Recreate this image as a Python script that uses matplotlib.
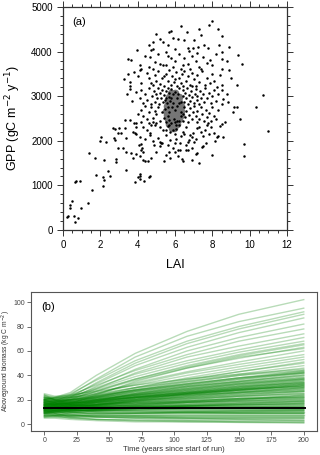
import matplotlib
matplotlib.use("Agg")
import matplotlib.pyplot as plt
from matplotlib.ticker import MultipleLocator

plt.rcParams["font.family"] = ["Liberation Sans", "DejaVu Sans"]

# -----------------------
# (a) LAI vs GPP scatter
# -----------------------
scatter_pts = [
    # > 4400
    (5.0, 4400), (5.8, 4474), (5.68, 4437), (6.32, 4586), (6.62, 4437), (7.28, 4497),
    (7.39, 4378), (7.84, 4602), (8.0, 4682), (8.32, 4497),
    # 4000 - 4400
    (4.82, 4213), (5.18, 4289), (5.36, 4213), (4.73, 4027), (4.82, 4065), (3.95, 4027),
    (6.18, 4289), (6.5, 4266), (6.71, 4079), (6.75, 4005), (6.98, 4079), (7.21, 4101),
    (7.57, 4139), (7.78, 4079), (8.36, 4154), (8.5, 4348), (8.91, 4101), (5.6, 4150),
    (5.9, 4300), (6.0, 4050), (5.5, 4000), (7.0, 4250), (4.6, 4150),
    # 3600 - 4000
    (4.64, 3877), (4.91, 3765), (5.18, 3729), (5.36, 3691), (3.48, 3841), (3.66, 3803),
    (4.12, 3691), (4.19, 3617), (4.12, 3579), (8.5, 3989), (9.36, 3915), (9.6, 3714),
    (8.5, 3826), (7.87, 3803), (7.96, 3691), (8.5, 3617), (8.91, 3579), (4.6, 3650),
    (4.8, 3620), (5.6, 3900), (5.8, 3850), (6.0, 3780), (6.2, 3950), (6.4, 3700),
    (6.5, 3850), (6.7, 3720), (6.9, 3900), (7.1, 3800), (7.3, 3650), (7.5, 3880),
    (7.7, 3750), (5.5, 3700), (5.9, 3650), (6.3, 3620), (6.8, 3600), (7.2, 3980),
    (7.4, 3600), (8.2, 3950), (8.8, 3800), (5.1, 3950), (4.4, 3900),
    # 3200 - 3600
    (3.27, 3393), (3.46, 3505), (3.59, 3317), (3.59, 3230), (3.8, 3540), (4.0, 3450),
    (4.2, 3300), (4.5, 3520), (4.6, 3400), (4.8, 3250), (4.9, 3480), (5.0, 3350),
    (5.1, 3560), (5.2, 3280), (5.3, 3420), (5.4, 3220), (5.5, 3500), (5.6, 3350),
    (5.7, 3580), (5.8, 3260), (5.85, 3450), (5.95, 3320), (6.05, 3540), (6.1, 3230),
    (6.2, 3400), (6.3, 3300), (6.35, 3500), (6.45, 3220), (6.5, 3560), (6.6, 3350),
    (6.7, 3450), (6.8, 3260), (6.9, 3520), (7.0, 3380), (7.1, 3230), (7.2, 3480),
    (7.3, 3330), (7.45, 3560), (7.6, 3250), (7.7, 3420), (7.85, 3300), (8.0, 3500),
    (8.23, 3206), (8.41, 3467), (8.5, 3244), (8.1, 3350), (9.0, 3400), (9.3, 3250),
    (6.0, 3380), (5.4, 3460), (4.7, 3300), (6.9, 3220),
    # 2800 - 3200
    (3.41, 3058), (3.59, 3170), (3.7, 2900), (3.9, 3100), (4.1, 2950), (4.2, 3150),
    (4.3, 2850), (4.4, 3050), (4.5, 2920), (4.6, 3180), (4.7, 2820), (4.75, 3000),
    (4.85, 3120), (4.9, 2880), (5.0, 3050), (5.05, 2950), (5.1, 3180), (5.15, 2830),
    (5.2, 3080), (5.25, 2960), (5.3, 3150), (5.35, 2880), (5.4, 3020), (5.45, 2920),
    (5.5, 3120), (5.55, 2850), (5.6, 3180), (5.65, 2980), (5.7, 3080), (5.75, 2900),
    (6.4, 3000), (6.45, 3150), (6.5, 2870), (6.55, 3080), (6.6, 2950), (6.65, 3180),
    (6.7, 2820), (6.75, 3030), (6.8, 2900), (6.85, 3120), (6.9, 2980), (7.0, 2850),
    (7.05, 3060), (7.1, 3170), (7.15, 2920), (7.2, 3000), (7.3, 2830), (7.35, 3110),
    (7.4, 2960), (7.5, 3050), (7.55, 2880), (7.6, 3180), (7.7, 2950), (7.8, 3080),
    (7.9, 2850), (8.0, 3000), (8.1, 3150), (8.2, 2900), (8.3, 3050), (8.5, 3132),
    (8.59, 2946), (8.53, 2834), (8.77, 3058), (8.85, 2870), (10.73, 3036), (6.0, 3100),
    (6.1, 2950), (6.2, 3180), (6.3, 2860), (5.9, 3050), (5.8, 3170),
    # 2400 - 2800
    (3.3, 2467), (3.57, 2467), (3.79, 2394), (3.93, 2394), (4.19, 2416), (4.61, 2394),
    (4.73, 2355), (4.82, 2432), (5.0, 2394), (4.0, 2600), (4.2, 2700), (4.3, 2550),
    (4.4, 2780), (4.5, 2480), (4.6, 2650), (4.7, 2750), (4.8, 2520), (4.9, 2680),
    (5.0, 2600), (5.1, 2760), (5.2, 2450), (5.3, 2640), (5.4, 2520), (5.45, 2720),
    (5.5, 2420), (6.4, 2600), (6.45, 2450), (6.5, 2760), (6.55, 2530), (6.6, 2680),
    (6.7, 2420), (6.75, 2580), (6.8, 2730), (6.9, 2480), (6.95, 2640), (7.0, 2780),
    (7.1, 2550), (7.15, 2430), (7.2, 2680), (7.3, 2500), (7.4, 2760), (7.45, 2600),
    (7.55, 2450), (7.65, 2700), (7.7, 2530), (7.8, 2620), (7.9, 2440), (8.0, 2760),
    (8.1, 2560), (8.2, 2480), (8.32, 2684), (8.41, 2342), (8.5, 2371), (8.68, 2416),
    (9.12, 2646), (9.17, 2758), (9.3, 2758), (9.48, 2500), (10.32, 2758), (6.0, 2420),
    (6.1, 2780), (6.2, 2450), (6.3, 2560), (5.6, 2760), (5.7, 2460), (5.8, 2400),
    (3.9, 2300), (7.7, 2355), (7.78, 2394), (7.16, 2297), (7.28, 2320),
    # black dots on top of the grey core
    (5.6, 2550), (5.8, 2950), (6.0, 2700), (6.2, 2850), (5.7, 2650), (6.1, 2450),
    (5.9, 2850), (5.65, 2350), (6.15, 3050), (5.95, 2500), (5.5, 2950), (6.3, 2650),
    (5.85, 2750), (6.05, 2350),
    # 2000 - 2400
    (2.68, 2282), (3.0, 2282), (2.95, 2170), (3.12, 2185), (3.32, 2282), (3.39, 2058),
    (2.71, 2058), (2.77, 2020), (1.96, 1998), (2.02, 2081), (2.32, 1984), (3.84, 2170),
    (3.75, 2208), (3.93, 2148), (4.11, 2096), (4.64, 2132), (4.68, 2170), (5.09, 2058),
    (5.18, 1984), (5.27, 1946), (5.36, 2240), (5.54, 2240), (5.71, 2208), (5.89, 2240),
    (6.07, 2266), (5.71, 2020), (6.05, 2050), (6.68, 1984), (6.75, 2020), (6.27, 1946),
    (6.8, 2132), (6.98, 2170), (6.89, 2096), (8.59, 2081), (8.23, 2096), (8.29, 2118),
    (8.14, 1998), (8.07, 2170), (10.96, 2221), (4.3, 2300), (4.5, 2250), (4.9, 2350),
    (5.2, 2300), (5.6, 2330), (6.2, 2350), (6.4, 2200), (6.6, 2300), (7.4, 2200),
    (7.6, 2250), (7.9, 2300), (6.3, 2100), (7.1, 2050), (7.5, 2100), (6.5, 2150),
    (4.4, 2050), (4.8, 2000), (5.5, 2120), (6.0, 2150), (7.8, 2150), (2.79, 2275),
    # 1500 - 2000
    (1.41, 1738), (1.71, 1611), (2.21, 1566), (2.82, 1595), (2.82, 1514), (2.96, 1834),
    (3.21, 1850), (3.39, 1760), (3.66, 1722), (3.75, 1611), (4.07, 1908), (4.19, 1924),
    (4.25, 1834), (4.19, 1796), (4.28, 1760), (4.14, 1649), (4.28, 1573), (4.38, 1537),
    (3.93, 1700), (4.55, 1537), (4.73, 1611), (4.87, 1908), (5.39, 1551), (5.54, 1684),
    (5.68, 1760), (5.75, 1611), (5.89, 1834), (5.98, 1760), (6.18, 1649), (6.27, 1796),
    (6.18, 1796), (6.45, 1551), (6.36, 1588), (6.71, 1796), (6.59, 1796), (6.9, 1850),
    (6.93, 1573), (7.14, 1700), (7.16, 1738), (7.28, 1499), (7.43, 1872), (7.52, 1886),
    (7.64, 1946), (7.96, 1684), (9.71, 1939), (9.71, 1649), (5.2, 1880), (5.0, 1750),
    (5.3, 1950), (6.0, 1950), (6.6, 1900), (7.0, 1980), (5.6, 1900),
    # < 1500
    (0.21, 284), (0.27, 306), (0.36, 553), (0.39, 492), (0.5, 642), (0.64, 179),
    (0.57, 320), (0.82, 268), (0.98, 492), (1.34, 604), (0.66, 1074), (0.71, 1103),
    (0.93, 1090), (1.55, 903), (1.79, 1238), (2.14, 1179), (2.21, 1126), (2.14, 977),
    (2.43, 1327), (2.5, 1201), (3.36, 1349), (4.02, 1179), (4.11, 1201), (4.14, 1148),
    (3.84, 1067), (4.34, 1103), (4.61, 1179), (4.68, 1201), (4.1, 1250),
]

# grey dense core around LAI ~6
core_lai = [5.85, 5.95,
            5.7, 5.9, 6.1,
            5.6, 5.8, 6.0, 6.2,
            5.55, 5.75, 5.95, 6.15, 6.3,
            5.5, 5.7, 5.9, 6.1, 6.3,
            5.55, 5.75, 5.95, 6.15, 6.3,
            5.6, 5.8, 6.0, 6.2,
            5.65, 5.85, 6.05, 6.2,
            5.8, 6.0]
core_gpp = [2280, 2280,
            2380, 2380, 2380,
            2480, 2480, 2480, 2480,
            2580, 2580, 2580, 2580, 2580,
            2680, 2680, 2680, 2680, 2680,
            2780, 2780, 2780, 2780, 2780,
            2880, 2880, 2880, 2880,
            2980, 2980, 2980, 2980,
            3080, 3080]

# -----------------------
# (b) biomass trajectories, knot values at these years
# -----------------------
years = [0, 8, 20, 40, 70, 110, 150, 200]
trajectories = [
    [20, 22, 26, 40, 58, 76, 90, 102],
    [18, 19, 24, 37, 55, 72, 84, 95],
    [22, 21, 25, 36, 52, 68, 80, 92],
    [16, 18, 22, 34, 50, 66, 78, 90],
    [19, 20, 23, 33, 48, 63, 75, 87],
    [17, 16, 21, 31, 45, 60, 71, 82],
    [21, 22, 24, 32, 44, 57, 68, 78],
    [15, 17, 20, 29, 42, 55, 64, 74],
    [18, 19, 22, 30, 41, 52, 61, 71],
    [20, 21, 23, 29, 39, 50, 59, 68],
    [16, 18, 20, 27, 37, 48, 57, 66],
    [19, 18, 21, 27, 36, 46, 54, 63],
    [14, 16, 19, 25, 34, 43, 51, 60],
    [17, 18, 20, 25, 33, 42, 49, 57],
    [22, 20, 22, 26, 32, 40, 47, 55],
    [15, 16, 18, 23, 30, 38, 45, 53],
    [18, 17, 19, 24, 30, 37, 43, 51],
    [13, 15, 18, 22, 29, 36, 43, 50],
    [20, 19, 20, 23, 28, 35, 41, 48],
    [16, 17, 18, 22, 28, 34, 40, 46],
    [24, 22, 23, 28, 37, 47, 56, 65],
    [12, 14, 17, 24, 35, 46, 55, 62],
    [14, 15, 17, 21, 27, 33, 38, 44],
    [19, 18, 19, 22, 27, 32, 37, 43],
    [11, 13, 15, 19, 25, 31, 36, 42],
    [17, 16, 17, 20, 25, 30, 35, 41],
    [22, 20, 20, 22, 26, 31, 35, 40],
    [13, 14, 16, 19, 24, 29, 34, 39],
    [16, 17, 17, 20, 24, 28, 33, 38],
    [10, 12, 14, 18, 23, 28, 32, 37],
    [20, 19, 19, 21, 24, 28, 32, 36],
    [15, 15, 16, 18, 22, 27, 31, 35],
    [12, 13, 15, 18, 22, 26, 30, 34],
    [18, 17, 17, 19, 22, 26, 29, 33],
    [9, 11, 13, 16, 20, 25, 29, 33],
    [14, 15, 15, 18, 21, 25, 28, 32],
    [21, 19, 18, 19, 22, 25, 28, 31],
    [11, 12, 14, 16, 20, 24, 27, 30],
    [16, 16, 16, 18, 20, 23, 26, 29],
    [13, 14, 14, 16, 19, 22, 25, 28],
    [19, 18, 17, 18, 20, 22, 25, 27],
    [8, 10, 12, 15, 18, 21, 24, 27],
    [15, 14, 15, 16, 18, 21, 23, 26],
    [12, 13, 13, 15, 17, 20, 23, 25],
    [17, 16, 16, 16, 18, 20, 22, 24],
    [10, 11, 12, 14, 16, 19, 21, 23],
    [14, 14, 14, 15, 17, 19, 21, 23],
    [23, 20, 18, 17, 18, 19, 21, 22],
    [11, 12, 12, 14, 16, 18, 20, 21],
    [16, 15, 15, 15, 16, 18, 19, 20],
    [13, 13, 13, 14, 15, 17, 18, 19],
    [9, 10, 11, 12, 14, 16, 17, 18],
    [18, 16, 15, 15, 15, 16, 17, 18],
    [12, 12, 12, 13, 14, 15, 16, 17],
    [15, 14, 14, 14, 14, 15, 16, 16],
    [20, 18, 16, 15, 15, 15, 15, 15],
    [10, 11, 11, 12, 13, 14, 14, 15],
    [14, 13, 13, 13, 13, 14, 14, 14],
    [17, 15, 14, 13, 13, 13, 13, 13],
    [25, 23, 24, 27, 32, 37, 41, 45],
    [21, 21, 22, 25, 30, 35, 40, 44],
    [18, 19, 20, 23, 28, 33, 38, 42],
    [15, 16, 18, 21, 26, 31, 35, 40],
    [12, 14, 16, 20, 25, 30, 34, 38],
    [20, 20, 20, 22, 25, 29, 33, 37],
    [13, 14, 15, 17, 21, 25, 28, 32],
    [17, 17, 17, 19, 22, 25, 28, 31],
    [9, 11, 13, 15, 19, 23, 26, 29],
    [12, 11, 11, 11, 12, 12, 12, 12],
    [15, 13, 12, 11, 11, 11, 11, 11],
    [10, 10, 10, 10, 10, 10, 10, 10],
    [13, 11, 10, 9, 9, 9, 9, 9],
    [8, 8, 8, 8, 8, 8, 8, 8],
    [11, 9, 8, 7, 7, 7, 7, 7],
    [16, 13, 10, 8, 7, 6, 6, 6],
    [7, 7, 6, 6, 6, 5, 5, 5],
    [10, 8, 7, 6, 5, 5, 4, 4],
    [14, 11, 8, 6, 5, 4, 4, 3],
    [6, 6, 5, 4, 4, 3, 3, 3],
    [9, 7, 5, 4, 3, 3, 2, 2],
    [12, 9, 6, 4, 3, 2, 2, 1.5],
    [5, 5, 4, 3, 2, 2, 1.5, 1],
    [18, 15, 12, 10, 9, 9, 9, 9],
    [20, 17, 14, 12, 11, 10, 10, 10],
    [24, 20, 16, 14, 13, 12, 12, 12],
    [7, 8, 8, 9, 9, 10, 10, 11],
    [9, 9, 10, 11, 12, 13, 14, 14],
    [11, 11, 12, 13, 14, 15, 16, 17],
    [6, 7, 9, 11, 13, 15, 17, 19],
    [8, 9, 10, 12, 15, 18, 20, 22],
    [14, 15, 16, 19, 23, 27, 31, 36],
    [19, 18, 18, 20, 23, 26, 30, 34],
    [11, 12, 13, 16, 19, 23, 26, 30],
    [16, 16, 17, 19, 22, 26, 30, 35],
    [22, 21, 21, 23, 27, 32, 37, 42],
    [13, 13, 14, 16, 19, 22, 24, 27],
    [17, 16, 16, 17, 19, 21, 23, 25],
    [10, 11, 12, 13, 15, 17, 19, 21],
    [15, 15, 15, 16, 17, 19, 21, 22],
    [12, 12, 13, 14, 16, 18, 20, 24],
    [18, 17, 17, 18, 21, 24, 27, 30],
    [9, 10, 11, 12, 13, 15, 16, 17],
    [14, 13, 12, 12, 12, 13, 13, 13],
    [11, 10, 9, 9, 8, 8, 8, 8],
    [16, 14, 12, 11, 10, 10, 9, 9],
    [8, 8, 7, 7, 6, 6, 6, 6],
    [13, 12, 11, 11, 11, 11, 11, 11],
    [20, 19, 19, 20, 22, 24, 26, 28],
    [23, 22, 22, 24, 28, 33, 38, 43],
    [15, 16, 17, 20, 24, 29, 33, 37],
    [12, 13, 14, 17, 21, 25, 29, 33],
    [17, 17, 18, 20, 23, 26, 29, 31],
    [10, 10, 11, 12, 14, 16, 18, 19],
    [7, 7, 7, 8, 9, 10, 11, 12],
    [19, 17, 16, 16, 17, 18, 19, 20],
    [14, 14, 15, 17, 20, 24, 28, 32],
    [21, 20, 20, 21, 24, 27, 31, 34],
    [11, 11, 11, 12, 13, 14, 15, 16],
    [16, 15, 14, 14, 14, 14, 14, 14],
    [6, 6, 6, 6, 6, 5, 5, 5],
]
obs_years = [0, 201]
obs_biomass = [13.6, 13.6]

fig = plt.figure(figsize=(3.2, 4.55), dpi=100)

# -----------------------
# Panel (a)
# -----------------------
ax1 = fig.add_axes([0.197, 0.4945, 0.70, 0.490])
ax1.scatter(core_lai, core_gpp, s=30, color="#767676", linewidths=0, zorder=2)
lai = [p[0] for p in scatter_pts]
gpp = [p[1] for p in scatter_pts]
ax1.scatter(lai, gpp, s=3.2, color="black", linewidths=0, zorder=3)
ax1.set_xlim(0, 12)
ax1.set_ylim(0, 5000)
ax1.xaxis.set_major_locator(MultipleLocator(2))
ax1.xaxis.set_minor_locator(MultipleLocator(0.5))
ax1.yaxis.set_major_locator(MultipleLocator(1000))
ax1.yaxis.set_minor_locator(MultipleLocator(200))
ax1.tick_params(which="both", direction="out", top=True, right=True,
                labeltop=False, labelright=False, width=0.7, color="#333333")
ax1.tick_params(which="major", length=4, labelsize=7)
ax1.tick_params(which="minor", length=2)
for sp in ax1.spines.values():
    sp.set_linewidth(0.9)
    sp.set_color("#333333")
ax1.set_xlabel("LAI", fontsize=9, labelpad=6)
ax1.set_ylabel("GPP (gC m$^{-2}$ y$^{-1}$)", fontsize=9, labelpad=6)
ax1.text(0.04, 0.955, "(a)", transform=ax1.transAxes, fontsize=8, va="top")

# -----------------------
# Panel (b)
# -----------------------
ax2 = fig.add_axes([0.097, 0.0527, 0.894, 0.306])
for traj in trajectories:
    ax2.plot(years, traj, color="green", alpha=0.28, lw=1.0)
ax2.plot(obs_years, obs_biomass, color="black", lw=1.4)
ax2.set_xlim(-10.3, 210.3)
ax2.set_ylim(-5.5, 108.4)
ax2.set_xticks([0, 25, 50, 75, 100, 125, 150, 175, 200])
ax2.set_yticks([0, 20, 40, 60, 80, 100])
ax2.tick_params(direction="out", length=3, width=0.6, color="#555555",
                labelsize=5, labelcolor="#444444", pad=1.5)
for sp in ax2.spines.values():
    sp.set_linewidth(0.8)
    sp.set_color("#555555")
ax2.set_xlabel("Time (years since start of run)", fontsize=5.5, color="#333333", labelpad=1)
ax2.set_ylabel("Aboveground biomass (kg C m$^{-2}$)", fontsize=4.8, color="#333333")
ax2.yaxis.set_label_coords(-0.062, 0.5)
ax2.text(0.035, 0.93, "(b)", transform=ax2.transAxes, fontsize=8, va="top")

fig.savefig("out.png", dpi=100)
